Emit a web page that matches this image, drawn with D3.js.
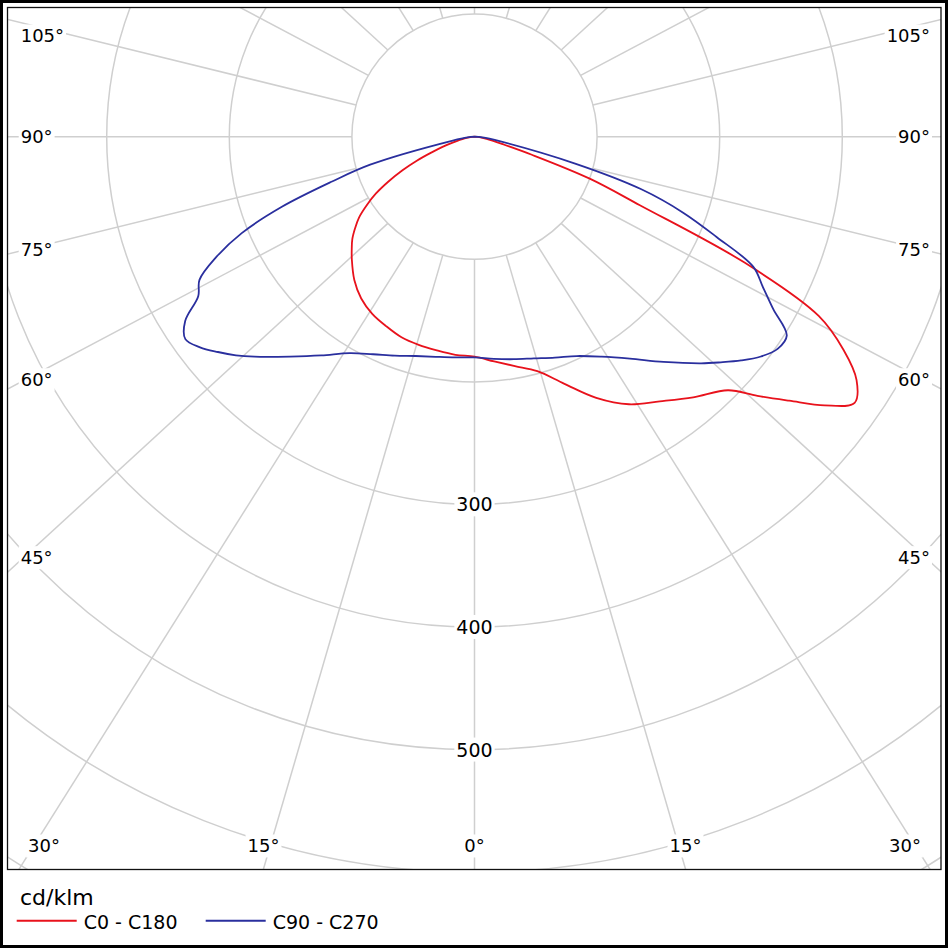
<!DOCTYPE html>
<html>
<head>
<meta charset="utf-8">
<script src="https://cdn.jsdelivr.net/npm/d3@7"></script>
<style>
  body { margin: 0; background: #fff; }
  svg text { font-family: 'DejaVu Sans', Verdana, sans-serif; fill: #000; }
</style>
</head>
<body>
<div id="chart"></div>
<script>
// gamma angles (0 = straight down) and intensities in cd/klm
const gammaAngles = [0, 5, 10, 15, 20, 25, 30, 35, 40, 45, 47.5, 50, 52.5, 55, 57.5, 60, 62.5, 65, 67.5, 70, 72.5, 75, 80, 85, 90];
const c0Values   = [180, 184, 190, 198, 214.5, 235, 252, 263.5, 277.5, 292.5, 313, 335, 360, 378.5, 369.5, 347.5, 316.5, 243, 146, 100, 49, 24.5, 10, 4, 0];
const c180Values = [179.4, 178.6, 177, 175.8, 174.1, 170.5, 166.8, 161.1, 152.5, 141.5, 135.8, 130.1, 122.8, 115, 104.4, 93, 79.1, 64.8, 50.6, 36.7, 26.9, 17.9, 8.2, 3.3, 0];
const c90Values  = [180.3, 181.9, 184.3, 187.2, 191.7, 197.4, 207.2, 221, 239.8, 261.4, 272.4, 283.9, 294.5, 301.8, 302, 281.4, 265.1, 250.8, 213.7, 181.1, 142.7, 85.6, 20, 6.5, 0];
const c270Values = [180, 180.7, 182.3, 185.2, 190, 195.8, 203.9, 217.8, 234.1, 253.7, 263.9, 273.2, 282.2, 287.9, 279.8, 260.2, 252.9, 232.5, 205.5, 167.2, 122.3, 88.1, 18, 5.7, 0];

const ringValues = [100, 200, 300, 400, 500, 600, 700];
const ringLabelValues = [300, 400, 500];
const angleLabels = [0, 15, 30, 45, 60, 75, 90, 105];
const legendNames = ['C0 - C180', 'C90 - C270'];
const legendColors = ['#e8121c', '#2a2f9e'];
const unitLabel = 'cd/klm';

const width = 948;
const height = 948;
const frame = { left: 7.5, top: 7.5, right: 941, bottom: 869.5 };
const cx = 474.5;
const cy = 136.7;
const rScale = d3.scaleLinear().domain([0, 100]).range([0, 122.6]);
const rayStretch = 1.09;
const rad = (d) => d * Math.PI / 180;

const svg = d3
    .select('#chart')
    .append('svg')
    .attr('width', width)
    .attr('height', height);

// outer border of the picture
svg.append('rect')
    .attr('x', 1.5).attr('y', 1.5)
    .attr('width', width - 3).attr('height', height - 3)
    .attr('fill', '#fff')
    .attr('stroke', '#000')
    .attr('stroke-width', 3);

svg.append('clipPath')
    .attr('id', 'plotClip')
    .append('rect')
    .attr('x', frame.left).attr('y', frame.top)
    .attr('width', frame.right - frame.left)
    .attr('height', frame.bottom - frame.top);

const plot = svg.append('g').attr('clip-path', 'url(#plotClip)');
const polar = plot.append('g').attr('transform', `translate(${cx},${cy})`);

// rays every 15 degrees, starting at the 100 ring
const rayAngles = d3.range(0, 360, 15);
const r0 = rScale(100);
polar.selectAll('.ray')
    .data(rayAngles)
    .enter()
    .append('line')
    .attr('class', 'ray')
    .attr('x1', (d) => r0 * Math.sin(rad(d)))
    .attr('y1', (d) => r0 * Math.cos(rad(d)))
    .attr('x2', (d) => {
        const dx = rayStretch * Math.sin(rad(d)), dy = Math.cos(rad(d));
        return r0 * Math.sin(rad(d)) + 2000 * dx / Math.hypot(dx, dy);
    })
    .attr('y2', (d) => {
        const dx = rayStretch * Math.sin(rad(d)), dy = Math.cos(rad(d));
        return r0 * Math.cos(rad(d)) + 2000 * dy / Math.hypot(dx, dy);
    })
    .attr('stroke', '#cfcfcf')
    .attr('stroke-width', 1.5);

polar.selectAll('.ring')
    .data(ringValues)
    .enter()
    .append('circle')
    .attr('class', 'ring')
    .attr('r', (d) => rScale(d))
    .attr('fill', 'none')
    .attr('stroke', '#cfcfcf')
    .attr('stroke-width', 1.5);

// one closed curve per C-plane pair: left half then right half
const radial = d3.lineRadial()
    .angle((d) => d.a)
    .radius((d) => rScale(d.v))
    .curve(d3.curveCatmullRom);

function planePoints(leftValues, rightValues) {
    const left = gammaAngles.map((g, i) => ({ a: Math.PI + rad(g), v: leftValues[i] })).reverse();
    const right = gammaAngles.map((g, i) => ({ a: Math.PI - rad(g), v: rightValues[i] }));
    return left.concat(right.slice(1));
}

const planes = [planePoints(c180Values, c0Values), planePoints(c270Values, c90Values)];

polar.selectAll('.plane')
    .data(planes)
    .enter()
    .append('path')
    .attr('class', 'plane')
    .attr('d', radial)
    .attr('fill', 'none')
    .attr('stroke', (d, i) => legendColors[i])
    .attr('stroke-width', 1.8)
    .attr('stroke-linejoin', 'round');

// frame of the plot area
svg.append('rect')
    .attr('x', frame.left).attr('y', frame.top)
    .attr('width', frame.right - frame.left)
    .attr('height', frame.bottom - frame.top)
    .attr('fill', 'none')
    .attr('stroke', '#111')
    .attr('stroke-width', 1.3);

// text with a white box behind it
const labelLayer = svg.append('g');
function boxedText(x, y, anchor, size, txt) {
    const g = labelLayer.append('g');
    const t = g.append('text')
        .attr('x', x).attr('y', y)
        .attr('dy', '0.36em')
        .attr('text-anchor', anchor)
        .style('font-size', size + 'px')
        .text(txt);
    const b = t.node().getBBox();
    g.insert('rect', 'text')
        .attr('x', b.x - 2).attr('y', b.y - 1)
        .attr('width', b.width + 4).attr('height', b.height + 2)
        .attr('fill', '#fff');
}

// angle labels, placed where each ray meets an inset box
const sideDx = 421, bottomY = 846, topY = 36;
angleLabels.forEach((g) => {
    const txt = g + '°';
    if (g === 0) {
        boxedText(cx, bottomY, 'middle', 18, txt);
        return;
    }
    [-1, 1].forEach((s) => {
        const ySide = cy + sideDx * Math.cos(rad(g)) / Math.sin(rad(g));
        if (ySide <= bottomY) {
            boxedText(s < 0 ? 20.7 : 930, Math.max(topY, ySide), s < 0 ? 'start' : 'end', 18, txt);
        } else {
            const xb = cx + s * (bottomY - cy) * Math.tan(rad(g));
            boxedText(xb + s * 5, bottomY, s < 0 ? 'end' : 'start', 18, txt);
        }
    });
});

ringLabelValues.forEach((v) => {
    boxedText(cx, cy + rScale(v), 'middle', 19, String(v));
});

// legend
svg.append('text')
    .attr('x', 20)
    .attr('y', 905)
    .style('font-size', '22px')
    .text(unitLabel);

const legendX = [16.7, 205.7];
const legend = svg.selectAll('.legendItem')
    .data(legendNames)
    .enter()
    .append('g')
    .attr('class', 'legendItem')
    .attr('transform', (d, i) => `translate(${legendX[i]},922)`);

legend.append('line')
    .attr('x1', 0).attr('x2', 60)
    .attr('y1', -1.3).attr('y2', -1.3)
    .attr('stroke', (d, i) => legendColors[i])
    .attr('stroke-width', 2);

legend.append('text')
    .attr('x', 67)
    .attr('dy', '0.36em')
    .style('font-size', '19px')
    .text((d) => d);
</script>
</body>
</html>
